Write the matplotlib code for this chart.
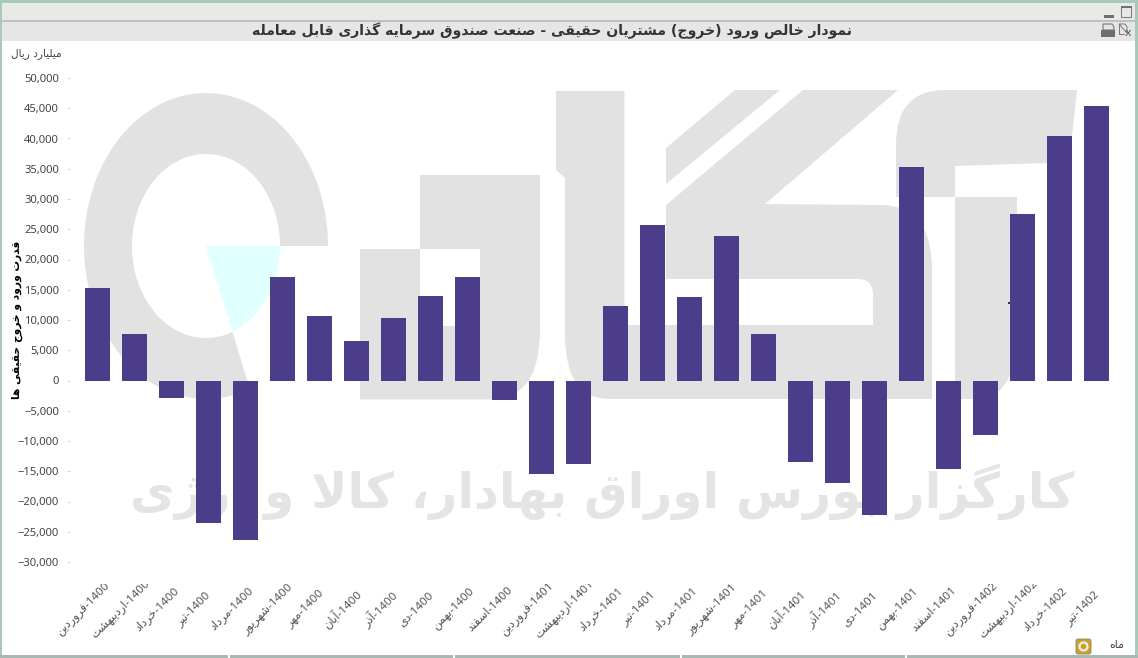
import re
import numpy as np
import matplotlib
matplotlib.use("Agg")
import matplotlib.pyplot as plt
from matplotlib.patches import Rectangle, PathPatch, FancyBboxPatch, Polygon, Circle
from matplotlib.path import Path
from matplotlib.ticker import StrMethodFormatter
from matplotlib.transforms import Bbox, TransformedBbox

years = [1400] * 12 + [1401] * 12 + [1402] * 4
months = ["فروردین", "اردیبهشت", "خرداد", "تیر", "مرداد", "شهریور", "مهر", "آبان", "آذر", "دی", "بهمن", "اسفند",
          "فروردین", "اردیبهشت", "خرداد", "تیر", "مرداد", "شهریور", "مهر", "آبان", "آذر", "دی", "بهمن", "اسفند",
          "فروردین", "اردیبهشت", "خرداد", "تیر"]
net_flow = [15290, 7690, -2900, -23550, -26360, 17100, 10660, 6530, 10330, 13970, 17100, -3220,
            -15450, -13800, 12310, 25700, 13800, 23880, 7690, -13470, -16940, -22230, 35290, -14630,
            -9000, 27520, 40410, 45370]
y_ticks = list(range(-30000, 50001, 5000))

title = "نمودار خالص ورود (خروج) مشتریان حقیقی - صنعت صندوق سرمایه گذاری قابل معامله"
unit_label = "میلیارد ریال"
y_label = "قدرت ورود و خروج حقیقی ها"
x_label = "ماه"
watermark = "کارگزار بورس اوراق بهادار، کالا و ارژی"

# matplotlib has no arabic shaping, so pick the presentation forms by hand
# letter: isolated, final, initial, medial
FORMS = {
    "ا": "\uFE8D\uFE8E", "آ": "\uFE81\uFE82", "د": "\uFEA9\uFEAA", "ذ": "\uFEAB\uFEAC",
    "ر": "\uFEAD\uFEAE", "ز": "\uFEAF\uFEB0", "ژ": "\uFB8A\uFB8B", "و": "\uFEED\uFEEE",
    "ب": "\uFE8F\uFE90\uFE91\uFE92", "ت": "\uFE95\uFE96\uFE97\uFE98", "ج": "\uFE9D\uFE9E\uFE9F\uFEA0",
    "ح": "\uFEA1\uFEA2\uFEA3\uFEA4", "خ": "\uFEA5\uFEA6\uFEA7\uFEA8", "س": "\uFEB1\uFEB2\uFEB3\uFEB4",
    "ش": "\uFEB5\uFEB6\uFEB7\uFEB8", "ص": "\uFEB9\uFEBA\uFEBB\uFEBC", "ع": "\uFEC9\uFECA\uFECB\uFECC",
    "ف": "\uFED1\uFED2\uFED3\uFED4", "ق": "\uFED5\uFED6\uFED7\uFED8", "ک": "\uFB8E\uFB8F\uFB90\uFB91",
    "گ": "\uFB92\uFB93\uFB94\uFB95", "ل": "\uFEDD\uFEDE\uFEDF\uFEE0", "م": "\uFEE1\uFEE2\uFEE3\uFEE4",
    "ن": "\uFEE5\uFEE6\uFEE7\uFEE8", "ه": "\uFEE9\uFEEA\uFEEB\uFEEC", "ی": "\uFBFC\uFBFD\uFBFE\uFBFF",
}


def fa(text):
    text = text.replace("لا", "\uFEFB")
    out = []
    for i, ch in enumerate(text):
        if ch == "\uFEFB":
            prev = text[i - 1] if i > 0 else ""
            out.append("\uFEFC" if prev in FORMS and len(FORMS[prev]) == 4 else ch)
            continue
        if ch not in FORMS:
            out.append(ch)
            continue
        prev = text[i - 1] if i > 0 else ""
        nxt = text[i + 1] if i + 1 < len(text) else ""
        joins_prev = prev in FORMS and len(FORMS[prev]) == 4
        joins_next = len(FORMS[ch]) == 4 and (nxt in FORMS or nxt == "\uFEFB")
        f = FORMS[ch]
        if joins_prev and joins_next:
            out.append(f[3])
        elif joins_next:
            out.append(f[2])
        elif joins_prev:
            out.append(f[1])
        else:
            out.append(f[0])
    res = "".join(out)[::-1]
    res = res.translate(str.maketrans("()", ")("))
    return re.sub(r"\d+", lambda m: m.group(0)[::-1], res)


plt.rcParams["font.family"] = ["Noto Sans", "DejaVu Sans"]

W, H = 1138, 658
fig = plt.figure(figsize=(W / 100, H / 100), dpi=100, facecolor="white")

# full figure axes in pixels for the window frame and the watermark
bg = fig.add_axes([0, 0, 1, 1], zorder=0)
bg.set_xlim(0, W)
bg.set_ylim(H, 0)
bg.axis("off")

GREY = "#e2e2e2"
FRAME = "#a9c9bd"


def rect(x0, y0, x1, y1, color, z=1):
    bg.add_patch(Rectangle((x0, y0), x1 - x0, y1 - y0, fc=color, ec="none", zorder=z))


def shape(points, color=GREY):
    # a point with a third item is the control point of a curve, the next point ends it
    verts, codes = [], []
    after_ctrl = False
    for p in points:
        verts.append(p[:2])
        if len(p) == 3 or after_ctrl:
            codes.append(Path.CURVE3)
        else:
            codes.append(Path.LINETO)
        after_ctrl = len(p) == 3
    codes[0] = Path.MOVETO
    verts.append(points[0][:2])
    codes.append(Path.CLOSEPOLY)
    bg.add_patch(PathPatch(Path(verts, codes), fc=color, ec="none", zorder=1))


def ellipse_pts(cx, cy, rx, ry, t0, t1, n=120):
    t = np.radians(np.linspace(t0, t1, n))
    return np.column_stack([cx + rx * np.cos(t), cy - ry * np.sin(t)])


# logo: ring with a cut, cyan wedge
outer = ellipse_pts(206, 246, 122, 153, 0, 291)
inner = ellipse_pts(206, 246, 74, 92, 291, 0)
bg.add_patch(Polygon(np.vstack([outer, inner]), fc=GREY, ec="none", zorder=1))
wedge = ellipse_pts(206, 246, 74, 92, 291, 360, 40)
bg.add_patch(Polygon(np.vstack([[[206, 246]], wedge]), fc="#e0ffff", ec="none", zorder=1))

# logo: second letter
shape([(360, 249), (420, 249), (420, 175), (540, 175), (540, 330),
       (540, 399, "c"), (490, 399.5), (360, 399.5)])
rect(420, 249, 480, 326, "white", 2)

# logo: long letter with the kaf on top
shape([(556, 91), (624.5, 91), (624.5, 325), (873, 325), (873, 295), (873, 279, "c"), (858, 279),
       (666, 279), (666, 205), (803, 90), (898, 90), (765, 204), (880, 205), (932, 205, "c"),
       (932, 270), (932, 399), (610, 399), (565, 399, "c"), (565, 335), (565, 178), (556, 170)])
shape([(666, 148), (735, 90), (780, 90), (666, 184)])

# logo: last letter
shape([(896, 197), (896, 145), (896, 90, "c"), (945, 90), (1077, 90), (1072, 136), (1047, 163), (955, 166),
       (955, 197)])
shape([(955, 197), (1017, 197), (1017, 330), (1017, 399, "c"), (975, 399), (955, 399)])

wm = bg.text(602, 492, fa(watermark), color="#e4e4e4", fontsize=35, fontweight="bold",
             ha="center", va="center", family="DejaVu Sans", zorder=1)

# window frame
rect(0, 0, W, 3, FRAME)
rect(0, 0, 2, H, FRAME)
rect(W - 3, 0, W, H, FRAME)
rect(0, 655, W, H, "#a8b8b2")
for gap in [228, 453, 680, 905]:
    rect(gap, 655, gap + 2, H, "white", 2)
rect(2, 3, W - 3, 20, "#e8eae8")
rect(2, 20, W - 3, 22, "#b9c4bf")
rect(2, 22, W - 3, 41, "#e6e6e6")

# window buttons
rect(1104, 15, 1114, 18, "#707070")
bg.add_patch(Rectangle((1121, 7), 10, 10, fc="none", ec="#808080", lw=0.8, zorder=2))
rect(1121, 6, 1132, 8, "#707070", 3)
bg.add_patch(Polygon([(1103, 24), (1112, 24), (1114, 27), (1114, 30), (1103, 30)], fc="#e6e6e6", ec="#777777", lw=0.8, zorder=2))
rect(1101, 30, 1115, 37, "#6e6e6e", 3)
bg.add_patch(Polygon([(1119, 24), (1125, 24), (1127, 27), (1127, 33)], fc="none", ec="#777777", lw=0.7, zorder=2))
bg.plot([1119, 1119, 1124], [24, 34, 34], color="#777777", lw=0.7, zorder=2)
bg.text(1128, 32.5, "x", fontsize=8, color="#555555", ha="center", va="center", family="DejaVu Sans", zorder=3)

# refresh button, bottom right
bg.add_patch(FancyBboxPatch((1077, 640), 13, 13, boxstyle="round,pad=1,rounding_size=2", fc="#c9a227", ec="#8a8a70", lw=0.6, zorder=2))
bg.add_patch(Circle((1083.5, 646.5), 4, fc="none", ec="#eeeeee", lw=1.6, zorder=3))

# stray marker left on the source chart
rect(1008, 302, 1011, 304, "#333333", 2)

bg.text(552, 31, fa(title), fontsize=10.1, fontweight="bold", color="#333333",
        ha="center", va="center", family="DejaVu Sans", zorder=3)
bg.text(36, 54, fa(unit_label), fontsize=7.6, color="#444444", ha="center", va="center",
        family="DejaVu Sans", zorder=3)
bg.text(17, 320, fa(y_label), fontsize=7.7, fontweight="bold", color="black", rotation=90,
        ha="center", va="center", family="DejaVu Sans", zorder=3)
bg.text(1117, 645, fa(x_label), fontsize=8, color="#444444", ha="center", va="center",
        family="DejaVu Sans", zorder=3)

# chart itself
left, right, top, bottom = 70, 1126, 78, 562
ax = fig.add_axes([left / W, 1 - bottom / H, (right - left) / W, (bottom - top) / H], zorder=1)
ax.patch.set_visible(False)
for s in ax.spines.values():
    s.set_visible(False)

x = np.arange(len(net_flow))
ax.bar(x, net_flow, width=0.675, color="#4b3d8a", linewidth=0)
ax.set_xlim((left - 97.5) / 37, (right - 97.5) / 37)
ax.set_ylim(-30000, 50000)
ax.set_yticks(y_ticks)
ax.yaxis.set_major_formatter(StrMethodFormatter("{x:,.0f}"))
ax.tick_params(axis="y", length=2, width=0.6, color="#cccccc", labelsize=8.1, labelcolor="#444444", pad=6)

labels = [fa(f"{y}-{m}") for y, m in zip(years, months)]
ax.set_xticks(x - 0.38)
ax.set_xticklabels(labels)
ax.tick_params(axis="x", length=0, pad=34, labelsize=8.3, labelcolor="#555555")
clip = TransformedBbox(Bbox([[0, 583.5], [W, 650]]), bg.transData)
for lab in ax.get_xticklabels():
    lab.set_rotation(45)
    lab.set_ha("center")
    lab.set_va("center")
    lab.set_clip_box(clip)
    lab.set_clip_on(True)

fig.savefig("out.png", dpi=100)
